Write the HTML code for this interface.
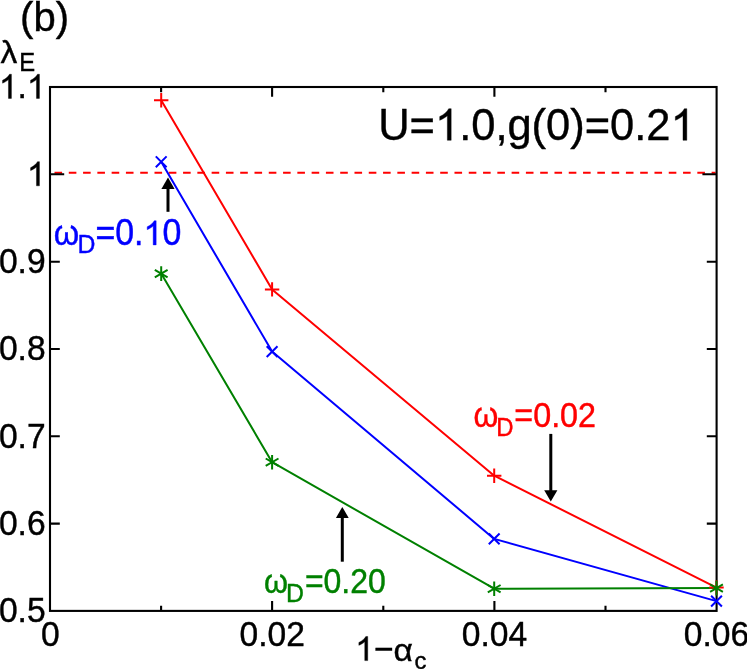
<!DOCTYPE html>
<html><head><meta charset="utf-8">
<style>
html,body{margin:0;padding:0;background:#fff;}
body{width:747px;height:669px;overflow:hidden;}
svg{display:block;will-change:transform;}
text{font-family:"Liberation Sans",sans-serif;font-kerning:none;}
</style></head><body>
<svg width="747" height="669" viewBox="0 0 747 669">
<rect x="0" y="0" width="747" height="669" fill="#fff"/>
<line x1="54.5" y1="172.8" x2="715.6" y2="172.8" stroke="#ff0000" stroke-width="2" stroke-dasharray="7.6 6.685"/>
<rect x="50" y="87" width="666.6" height="523.9" fill="none" stroke="#000" stroke-width="2.1"/>
<g stroke="#000" stroke-width="2.1" fill="none">
<path d="M50 174.3h14.2M716.6 174.3h-14.2"/>
<path d="M50 261.7h9.8M716.6 261.7h-9.8M50 349h9.8M716.6 349h-9.8M50 436.3h9.8M716.6 436.3h-9.8M50 523.6h9.8M716.6 523.6h-9.8"/>
<path d="M272.1 610.9v-9.8M272.1 87v9.8M494.4 610.9v-9.8M494.4 87v9.8"/>
<path d="M161.1 610.9v-5.2M161.1 87v5.2M383.3 610.9v-5.2M383.3 87v5.2M605.5 610.9v-5.2M605.5 87v5.2"/>
</g>
<g fill="none" stroke-width="2" stroke-linejoin="round">
<polyline stroke="#ff0000" points="161.2,100.2 272.1,289.4 494.2,475.7 716.5,587.6"/>
<polyline stroke="#0000ff" points="161.2,161.8 272.1,351.6 494.2,538.9 716.5,601.1"/>
<polyline stroke="#008000" points="161.2,273.6 272.1,462.2 494.2,588.7 716.5,588.1"/>
</g>
<g stroke="#ff0000" stroke-width="2">
<path transform="translate(161.2 100.2)" d="M-7.2 0H7.2M0 -7.2V7.2" fill="none"/><path transform="translate(272.1 289.4)" d="M-7.2 0H7.2M0 -7.2V7.2" fill="none"/><path transform="translate(494.2 475.7)" d="M-7.2 0H7.2M0 -7.2V7.2" fill="none"/><path transform="translate(716.5 587.6)" d="M-7.2 0H7.2M0 -7.2V7.2" fill="none"/>
</g>
<g stroke="#0000ff" stroke-width="2">
<path transform="translate(161.2 161.8)" d="M-5.4 -5.4L5.4 5.4M-5.4 5.4L5.4 -5.4" fill="none"/><path transform="translate(272.1 351.6)" d="M-5.4 -5.4L5.4 5.4M-5.4 5.4L5.4 -5.4" fill="none"/><path transform="translate(494.2 538.9)" d="M-5.4 -5.4L5.4 5.4M-5.4 5.4L5.4 -5.4" fill="none"/><path transform="translate(716.5 601.1)" d="M-5.4 -5.4L5.4 5.4M-5.4 5.4L5.4 -5.4" fill="none"/>
</g>
<g stroke="#008000" stroke-width="2">
<path transform="translate(161.2 273.6)" d="M0 -7.3V7.3M-6.4 -3.7L6.4 3.7M-6.4 3.7L6.4 -3.7" fill="none"/><path transform="translate(272.1 462.2)" d="M0 -7.3V7.3M-6.4 -3.7L6.4 3.7M-6.4 3.7L6.4 -3.7" fill="none"/><path transform="translate(494.2 588.7)" d="M0 -7.3V7.3M-6.4 -3.7L6.4 3.7M-6.4 3.7L6.4 -3.7" fill="none"/><path transform="translate(716.5 588.1)" d="M0 -7.3V7.3M-6.4 -3.7L6.4 3.7M-6.4 3.7L6.4 -3.7" fill="none"/>
</g>
<g stroke="#000" stroke-width="3" fill="#000">
<line x1="168" y1="211.8" x2="168" y2="187"/>
<line x1="550.8" y1="433.9" x2="550.8" y2="491"/>
<line x1="342.3" y1="561.7" x2="342.3" y2="517"/>
</g>
<g fill="#000">
<path d="M168 177.6l6.6 11.3h-13.2z"/>
<path d="M550.8 501.4l6.6 -11.2h-13.2z"/>
<path d="M342.3 506.9l6.4 11.1h-12.8z"/>
</g>
<g transform="translate(45.6 98.39999999999999) scale(1.0 1.07)" fill="#000" stroke="#000" stroke-width="0.4" font-size="33.6"><path transform="translate(-46.71 0) scale(0.01641 -0.01533)" d="M763 0H583V1147Q518 1085 412.5 1023Q307 961 223 930V1104Q374 1175 487 1276Q600 1377 647 1472H763Z" stroke-width="24.4"/><text x="-28.02" y="0">.</text><path transform="translate(-18.69 0) scale(0.01641 -0.01533)" d="M763 0H583V1147Q518 1085 412.5 1023Q307 961 223 930V1104Q374 1175 487 1276Q600 1377 647 1472H763Z" stroke-width="24.4"/></g>
<g transform="translate(45.6 185.8) scale(1.0 1.07)" fill="#000" stroke="#000" stroke-width="0.4" font-size="33.6"><path transform="translate(-18.69 0) scale(0.01641 -0.01533)" d="M763 0H583V1147Q518 1085 412.5 1023Q307 961 223 930V1104Q374 1175 487 1276Q600 1377 647 1472H763Z" stroke-width="24.4"/></g>
<g transform="translate(45.6 273.1) scale(1.0 1.07)" fill="#000" stroke="#000" stroke-width="0.4" font-size="33.6"><text x="-46.71" y="0">0.9</text></g>
<g transform="translate(45.6 360.40000000000003) scale(1.0 1.07)" fill="#000" stroke="#000" stroke-width="0.4" font-size="33.6"><text x="-46.71" y="0">0.8</text></g>
<g transform="translate(45.6 447.8) scale(1.0 1.07)" fill="#000" stroke="#000" stroke-width="0.4" font-size="33.6"><text x="-46.71" y="0">0.7</text></g>
<g transform="translate(45.6 535.0999999999999) scale(1.0 1.07)" fill="#000" stroke="#000" stroke-width="0.4" font-size="33.6"><text x="-46.71" y="0">0.6</text></g>
<g transform="translate(45.6 622.4) scale(1.0 1.07)" fill="#000" stroke="#000" stroke-width="0.4" font-size="33.6"><text x="-46.71" y="0">0.5</text></g>
<g transform="translate(50.3 646.1) scale(1.0 1.07)" fill="#000" stroke="#000" stroke-width="0.4" font-size="33.6"><text x="-9.34" y="0">0</text></g>
<g transform="translate(272.3 646.1) scale(1.0 1.07)" fill="#000" stroke="#000" stroke-width="0.4" font-size="33.6"><text x="-32.70" y="0">0.02</text></g>
<g transform="translate(494.4 646.1) scale(1.0 1.07)" fill="#000" stroke="#000" stroke-width="0.4" font-size="33.6"><text x="-32.70" y="0">0.04</text></g>
<g transform="translate(716.5 646.1) scale(1.0 1.07)" fill="#000" stroke="#000" stroke-width="0.4" font-size="33.6"><text x="-32.70" y="0">0.06</text></g>
<g transform="translate(20.1 30.5) scale(1.0 1.02)" fill="#000" stroke="#000" stroke-width="0.4" font-size="40"><text x="0.00" y="0">(b)</text></g>
<g transform="translate(0.6 63.2) scale(1.0 0.944)" fill="#000" stroke="#000" stroke-width="0.4" font-size="33.6"><text x="0.00" y="0">λ</text></g>
<g transform="translate(19.2 71.3) scale(0.96 1.015)" fill="#000" stroke="#000" stroke-width="0.4" font-size="24.8"><text x="0.00" y="0">E</text></g>
<g transform="translate(378.2 140.3) scale(0.988 1.0)" fill="#000" stroke="#000" stroke-width="0.4" font-size="44"><text x="0.00" y="0">U=</text><path transform="translate(57.47 0) scale(0.02148 -0.02148)" d="M763 0H583V1147Q518 1085 412.5 1023Q307 961 223 930V1104Q374 1175 487 1276Q600 1377 647 1472H763Z" stroke-width="18.6"/><text x="81.94" y="0">.0,g(0)=0.2</text><path transform="translate(295.97 0) scale(0.02148 -0.02148)" d="M763 0H583V1147Q518 1085 412.5 1023Q307 961 223 930V1104Q374 1175 487 1276Q600 1377 647 1472H763Z" stroke-width="18.6"/></g>
<g transform="translate(355.2 660.6) scale(1.0 1.07)" fill="#000" stroke="#000" stroke-width="0.4" font-size="33.6"><path transform="translate(0.00 0) scale(0.01641 -0.01533)" d="M763 0H583V1147Q518 1085 412.5 1023Q307 961 223 930V1104Q374 1175 487 1276Q600 1377 647 1472H763Z" stroke-width="24.4"/><text x="18.69" y="0">−</text></g>
<g transform="translate(393.5 660.8) scale(1.0 0.955)" fill="#000" stroke="#000" stroke-width="0.4" font-size="33.6"><text x="0.00" y="0">α</text></g>
<g transform="translate(414.6 669.0) scale(0.96 0.95)" fill="#000" stroke="#000" stroke-width="0.4" font-size="24.8"><text x="0.00" y="0">c</text></g>
<g transform="translate(53.8 244.9) scale(0.97 1.03)" fill="#0000ff" stroke="#0000ff" stroke-width="0.4" font-size="33.6"><text x="0.00" y="0">ω</text></g>
<g transform="translate(77.4 253.4) scale(1 1.04)" fill="#0000ff" stroke="#0000ff" stroke-width="0.4" font-size="24.8"><text x="0.00" y="0">D</text></g>
<g transform="translate(95.4 244.9) scale(1.01 1.085)" fill="#0000ff" stroke="#0000ff" stroke-width="0.4" font-size="33.6"><text x="0.00" y="0">=0.</text><path transform="translate(47.64 0) scale(0.01641 -0.01512)" d="M763 0H583V1147Q518 1085 412.5 1023Q307 961 223 930V1104Q374 1175 487 1276Q600 1377 647 1472H763Z" stroke-width="24.4"/><text x="66.33" y="0">0</text></g>
<g transform="translate(473.6 427.2) scale(0.947 1.02)" fill="#ff0000" stroke="#ff0000" stroke-width="0.4" font-size="33.6"><text x="0.00" y="0">ω</text></g>
<g transform="translate(496.3 435.59999999999997) scale(1 1.04)" fill="#ff0000" stroke="#ff0000" stroke-width="0.4" font-size="23.9"><text x="0.00" y="0">D</text></g>
<g transform="translate(514.3 427.2) scale(0.962 1.06)" fill="#ff0000" stroke="#ff0000" stroke-width="0.4" font-size="33.6"><text x="0.00" y="0">=0.02</text></g>
<g transform="translate(264.0 592.9) scale(0.915 1.01)" fill="#008000" stroke="#008000" stroke-width="0.4" font-size="33.6"><text x="0.00" y="0">ω</text></g>
<g transform="translate(286.1 601.6) scale(1 1.04)" fill="#008000" stroke="#008000" stroke-width="0.4" font-size="24.8"><text x="0.00" y="0">D</text></g>
<g transform="translate(304.9 592.9) scale(0.952 1.06)" fill="#008000" stroke="#008000" stroke-width="0.4" font-size="33.6"><text x="0.00" y="0">=0.20</text></g>
</svg>
</body></html>
